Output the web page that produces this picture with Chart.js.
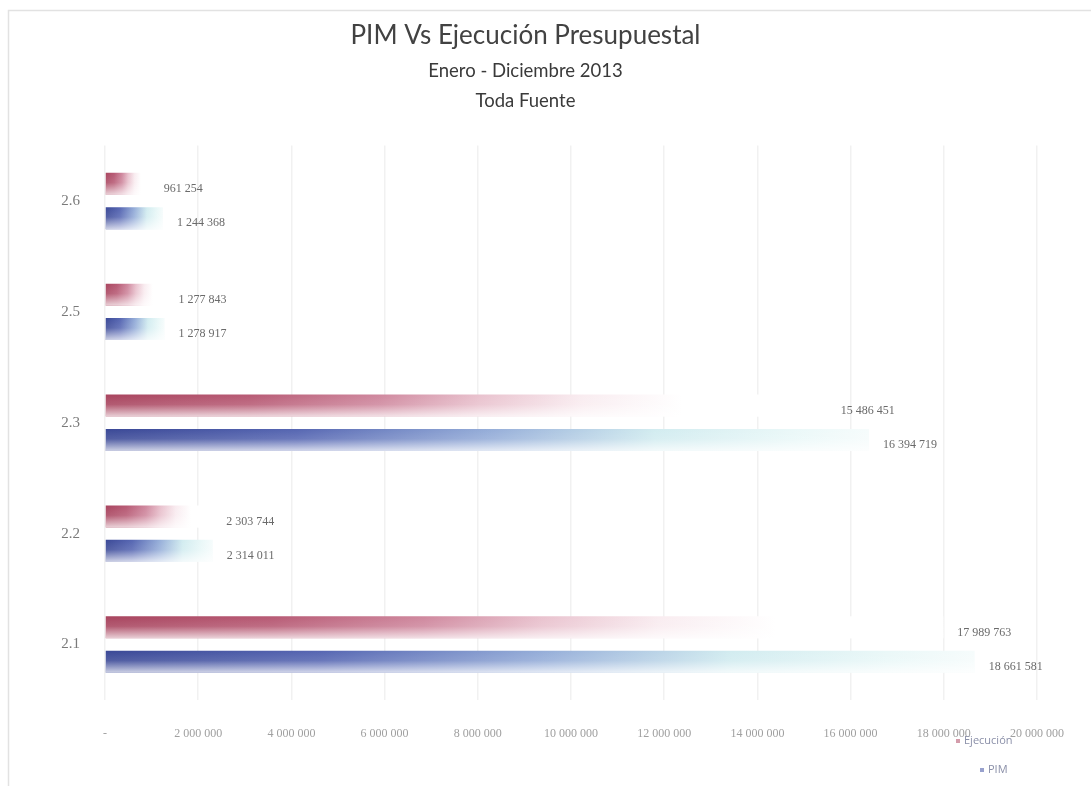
<!DOCTYPE html>
<html lang="es">
<head>
<meta charset="utf-8">
<title>PIM Vs Ejecución Presupuestal</title>
<script src="https://cdn.jsdelivr.net/npm/chart.js@4.4.1/dist/chart.umd.min.js"></script>
<style>
  html, body { margin: 0; padding: 0; background: #ffffff; }
  #wrap { width: 1091px; height: 786px; position: relative; }
</style>
</head>
<body>
<div id="wrap"><canvas id="grafico" width="1091" height="786"></canvas></div>
<script>
// Genéricas presupuestales, de arriba hacia abajo
const categorias = ['2.6', '2.5', '2.3', '2.2', '2.1'];
// Ejecución presupuestal (S/.)
const ejecucion = [961254, 1277843, 15486451, 2303744, 17989763];
// Presupuesto Institucional Modificado (S/.)
const pim = [1244368, 1278917, 16394719, 2314011, 18661581];
// Eje de valores
const ejeMax = 20000000;
const ejePaso = 2000000;

const nombresSeries = ['Ejecución', 'PIM'];
const coloresSeries = ['#b04a66', '#4454a4'];

// Miles separados con espacio, cero como guion
function formato(v) {
  if (v === 0) return '-';
  return String(Math.round(v)).replace(/\B(?=(\d{3})+(?!\d))/g, ' ');
}

// Degradado horizontal desde el origen hasta el final de cada barra
function degradado(paradas) {
  return (ctx) => {
    const chart = ctx.chart;
    if (ctx.type !== 'data' || !chart.chartArea) return paradas[0][1];
    const xs = chart.scales.x;
    const x0 = xs.getPixelForValue(0);
    const x1 = Math.max(xs.getPixelForValue(ctx.raw), x0 + 1);
    const g = chart.ctx.createLinearGradient(x0, 0, x1, 0);
    paradas.forEach(([o, c]) => g.addColorStop(o, c));
    return g;
  };
}

const paradasRojo = [[0, '#a8445e'], [0.2, '#b75a74'], [0.38, '#cf889e'], [0.52, '#e9c2ce'], [0.66, '#f9ecf0'], [0.8, '#ffffff'], [1, '#ffffff']];
const paradasAzul = [[0, '#3a4896'], [0.25, '#5666b2'], [0.5, '#94acd8'], [0.72, '#d2ecf0'], [0.9, '#eaf8f8'], [1, '#f6fcfc']];

// Fondo y marco exterior
const marco = {
  id: 'marco',
  beforeDraw(chart) {
    const c = chart.ctx;
    c.save();
    c.fillStyle = '#ffffff';
    c.fillRect(0, 0, chart.width, chart.height);
    c.strokeStyle = '#e2e2e2';
    c.lineWidth = 1.5;
    c.beginPath();
    c.moveTo(8.5, chart.height);
    c.lineTo(8.5, 10.5);
    c.lineTo(chart.width, 10.5);
    c.stroke();
    c.restore();
  }
};

// Sombreado vertical: parte inferior de cada barra más clara
const sombreado = {
  id: 'sombreado',
  afterDatasetsDraw(chart) {
    const c = chart.ctx;
    c.save();
    chart.data.datasets.forEach((ds, i) => {
      chart.getDatasetMeta(i).data.forEach((el) => {
        const p = el.getProps(['x', 'y', 'base', 'height'], true);
        const top = p.y - p.height / 2;
        const g = c.createLinearGradient(0, top, 0, top + p.height);
        g.addColorStop(0, 'rgba(255,255,255,0)');
        g.addColorStop(0.45, 'rgba(255,255,255,0.12)');
        g.addColorStop(1, 'rgba(255,255,255,0.75)');
        c.fillStyle = g;
        c.fillRect(p.base, top, p.x - p.base, p.height);
      });
    });
    c.restore();
  }
};

// Etiquetas de valor al final de cada barra
const etiquetas = {
  id: 'etiquetas',
  afterDatasetsDraw(chart) {
    const c = chart.ctx;
    c.save();
    c.font = '12px "Liberation Serif", "DejaVu Serif", serif';
    c.fillStyle = '#6a6a6a';
    c.textAlign = 'left';
    c.textBaseline = 'middle';
    chart.data.datasets.forEach((ds, i) => {
      chart.getDatasetMeta(i).data.forEach((el, j) => {
        const p = el.getProps(['x', 'y'], true);
        c.fillText(formato(ds.data[j]), p.x + 14, p.y + 5);
      });
    });
    c.restore();
  }
};

// Leyenda en la esquina inferior derecha
const leyenda = {
  id: 'leyenda',
  afterDraw(chart) {
    const c = chart.ctx;
    const a = chart.chartArea;
    c.save();
    c.font = '11px "Open Sans", "DejaVu Sans", sans-serif';
    c.textBaseline = 'middle';
    c.textAlign = 'left';
    const filas = [
      { x: a.right - 73, y: a.bottom + 41 },
      { x: a.right - 49, y: a.bottom + 70 }
    ];
    chart.data.datasets.forEach((ds, i) => {
      const f = filas[i];
      c.fillStyle = coloresSeries[i];
      c.globalAlpha = 0.55;
      c.fillRect(f.x - 8, f.y - 2, 4, 4);
      c.globalAlpha = 1;
      c.fillStyle = '#8a8fa8';
      c.fillText(ds.label, f.x, f.y);
    });
    c.restore();
  }
};

new Chart(document.getElementById('grafico'), {
  type: 'bar',
  data: {
    labels: categorias,
    datasets: [
      {
        label: nombresSeries[0],
        data: ejecucion,
        backgroundColor: degradado(paradasRojo),
        borderWidth: 0,
        categoryPercentage: 0.62,
        barPercentage: 0.64
      },
      {
        label: nombresSeries[1],
        data: pim,
        backgroundColor: degradado(paradasAzul),
        borderWidth: 0,
        categoryPercentage: 0.62,
        barPercentage: 0.64
      }
    ]
  },
  options: {
    indexAxis: 'y',
    responsive: false,
    animation: false,
    devicePixelRatio: 1,
    layout: { padding: { left: 0, right: 40, top: 0, bottom: 36 } },
    plugins: {
      legend: { display: false },
      tooltip: { enabled: false },
      title: {
        display: true,
        text: 'PIM Vs Ejecución Presupuestal',
        color: '#424242',
        font: { family: 'Lato, "Open Sans", sans-serif', size: 26, weight: 'normal', lineHeight: 1.1 },
        padding: { top: 21, bottom: 6 }
      },
      subtitle: {
        display: true,
        text: ['Enero - Diciembre 2013', 'Toda Fuente'],
        color: '#3a3a3a',
        font: { family: 'Lato, "Open Sans", sans-serif', size: 18.5, weight: 'normal', lineHeight: 1.62 },
        padding: { top: 0, bottom: 30 }
      }
    },
    scales: {
      x: {
        min: 0,
        max: ejeMax,
        border: { display: false },
        grid: { color: '#f1f1f1', lineWidth: 1.5, drawTicks: false },
        ticks: {
          stepSize: ejePaso,
          padding: 27,
          color: '#a0a0a0',
          font: { family: '"Liberation Serif", "DejaVu Serif", serif', size: 12 },
          callback: (v) => formato(v),
          maxRotation: 0,
          autoSkip: false
        },
        afterFit(scale) { scale.height = 50; }
      },
      y: {
        border: { display: false },
        grid: { display: false, drawTicks: false },
        ticks: {
          padding: 25,
          color: '#7a7a7a',
          font: { family: '"Liberation Serif", "DejaVu Serif", serif', size: 15 }
        },
        afterFit(scale) { scale.width = 105; }
      }
    }
  },
  plugins: [marco, sombreado, etiquetas, leyenda]
});
</script>
</body>
</html>
